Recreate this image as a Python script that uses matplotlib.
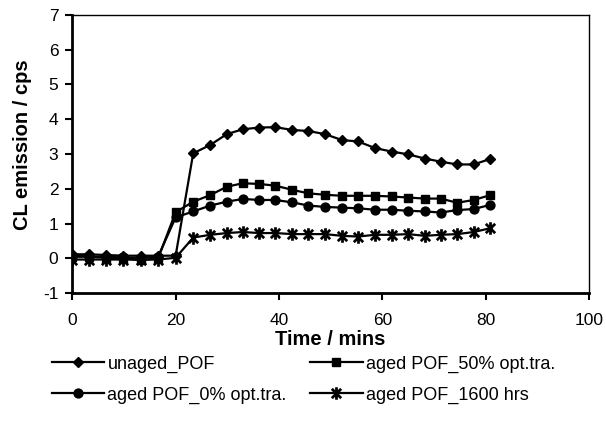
import matplotlib
matplotlib.use('Agg')
import matplotlib.pyplot as plt
from matplotlib.path import Path

plt.rcParams['font.family'] = ['Liberation Sans', 'DejaVu Sans']
plt.rcParams['axes.unicode_minus'] = False

# time axis (mins)
time_min = [0, 3.2, 6.6, 9.9, 13.2, 16.6, 20.0, 23.4, 26.7, 29.9, 33.0, 36.2, 39.3,
            42.6, 45.7, 48.9, 52.2, 55.3, 58.6, 61.8, 65.0, 68.2, 71.3, 74.5, 77.7, 80.9]

# CL emission (cps) per sample
unaged = [0.12, 0.12, 0.10, 0.08, 0.08, 0.08, 0.08, 3.02, 3.26, 3.57, 3.71, 3.76, 3.77,
          3.69, 3.66, 3.57, 3.40, 3.36, 3.17, 3.07, 2.99, 2.87, 2.78, 2.70, 2.70, 2.86]
aged_50 = [0.05, 0.05, 0.02, 0.00, -0.05, 0.00, 1.33, 1.63, 1.82, 2.06, 2.16, 2.14, 2.09,
           1.97, 1.87, 1.83, 1.80, 1.80, 1.80, 1.78, 1.75, 1.72, 1.72, 1.60, 1.68, 1.82]
aged_0 = [0.08, 0.06, 0.05, 0.03, 0.02, 0.05, 1.18, 1.35, 1.52, 1.63, 1.71, 1.68, 1.68,
          1.61, 1.52, 1.48, 1.46, 1.44, 1.40, 1.40, 1.37, 1.35, 1.32, 1.39, 1.42, 1.54]
aged_1600 = [-0.03, -0.03, -0.03, -0.03, -0.03, -0.03, 0.02, 0.60, 0.68, 0.73, 0.76, 0.73, 0.73,
             0.70, 0.70, 0.70, 0.65, 0.63, 0.68, 0.68, 0.70, 0.65, 0.68, 0.70, 0.76, 0.87]

labels = ['unaged_POF', 'aged POF_0% opt.tra.', 'aged POF_50% opt.tra.', 'aged POF_1600 hrs']

# excel style star: vertical bar plus an x
star = Path([(0, -1), (0, 1), (-0.75, -0.75), (0.75, 0.75), (-0.75, 0.75), (0.75, -0.75)],
            [Path.MOVETO, Path.LINETO, Path.MOVETO, Path.LINETO, Path.MOVETO, Path.LINETO])

fig = plt.figure(figsize=(6.06, 4.21), dpi=100)
ax = fig.add_axes([0.1193, 0.3033, 0.8527, 0.6618])

kw = dict(color='black', lw=1.6)
l1, = ax.plot(time_min, unaged, marker='D', ms=5.0, **kw)
l3, = ax.plot(time_min, aged_50, marker='s', ms=6.2, **kw)
l2, = ax.plot(time_min, aged_0, marker='o', ms=6.4, **kw)
l4, = ax.plot(time_min, aged_1600, marker=star, ms=9, mew=2.0, **kw)

ax.set_xlim(0, 100)
ax.set_ylim(-1, 7)
ax.set_xticks(range(0, 101, 20))
ax.set_yticks(range(-1, 8))
ax.tick_params(axis='both', direction='out', length=5, width=1.5, labelsize=12.5)
ax.tick_params(axis='x', pad=9)
ax.tick_params(axis='y', pad=5)

for side in ['left', 'bottom']:
    ax.spines[side].set_linewidth(2)
for side in ['top', 'right']:
    ax.spines[side].set_linewidth(1)

ax.set_xlabel('Time / mins', fontsize=14.5, fontweight='bold')
ax.set_ylabel('CL emission / cps', fontsize=14.5, fontweight='bold')
ax.xaxis.set_label_coords(0.5, -0.13)
ax.yaxis.set_label_coords(-0.078, 0.535)

fig.legend([l1, l2, l3, l4], labels, loc='upper left', bbox_to_anchor=(0.085, 0.155),
           ncol=2, frameon=False, fontsize=13, handlelength=2.9, handletextpad=0.2,
           columnspacing=1.3, labelspacing=0.75, borderpad=0, borderaxespad=0)

fig.savefig('out.png', dpi=100)
